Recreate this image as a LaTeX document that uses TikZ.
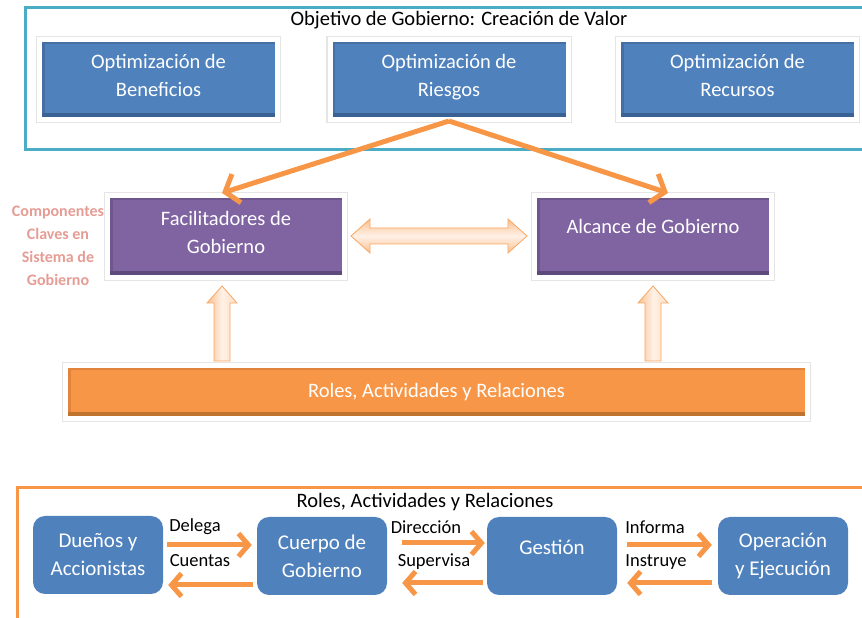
\documentclass[tikz,border=0pt]{standalone}
\usepackage{fontspec}
\setmainfont{Carlito}
\usetikzlibrary{arrows.meta,calc}

\definecolor{ablue}{HTML}{4F81BD}
\definecolor{abluedark}{HTML}{3A6193}
\definecolor{ablueedge}{HTML}{466FA4}
\definecolor{apurple}{HTML}{8064A2}
\definecolor{apurpledark}{HTML}{5E4A7B}
\definecolor{apurpleedge}{HTML}{6F578E}
\definecolor{aorange}{HTML}{F79646}
\definecolor{aorangedark}{HTML}{C0722F}
\definecolor{aorangeedge}{HTML}{E0853B}
\definecolor{ateal}{HTML}{4BACC6}
\definecolor{apeach}{HTML}{FAC090}
\definecolor{apeachlight}{HTML}{FFF1E6}
\definecolor{asalmon}{HTML}{E59C94}

\tikzset{
  bodytext/.style={font=\fontsize{20.5}{28}\selectfont},
  rimbox/.style={rectangle, draw=white, line width=5pt,
    preaction={draw=black!10, line width=7.5pt},
    text=white, bodytext, align=center, inner sep=0pt,
    execute at end node=\strut},
  % bevelled edges: darker band at the bottom, thin shade on the left and top
  bevel/.style 2 args={path picture={
    \fill[#2] (path picture bounding box.south west)
      rectangle ([xshift=5pt]path picture bounding box.north west);
    \fill[#2] ([yshift=-5pt]path picture bounding box.north west)
      rectangle (path picture bounding box.north east);
    \fill[#1] ([yshift=-1pt]path picture bounding box.south west)
      rectangle ([yshift=6pt]path picture bounding box.south east);}},
  bluebox/.style={rimbox, fill=ablue, bevel={abluedark}{ablueedge},
    minimum width=238pt, minimum height=80pt},
  purplebox/.style={rimbox, fill=apurple, bevel={apurpledark}{apurpleedge},
    minimum width=237pt, minimum height=82pt},
  orangebar/.style={rimbox, fill=aorange, bevel={aorangedark}{aorangeedge},
    minimum width=742pt, minimum height=53pt},
  rolebox/.style={rectangle, rounded corners=12pt, fill=ablue, text=white,
    font=\fontsize{21}{28}\selectfont, align=center,
    minimum width=130pt, minimum height=78pt, inner sep=0pt},
  boxtext/.style={text=white, bodytext, inner sep=0pt},
  bigflow/.style={draw=aorange, line width=5pt,
    -{Straight Barb[length=12pt, width=30pt]}},
  flow/.style={draw=aorange, line width=5pt,
    -{Straight Barb[length=10pt, width=23pt]}},
  blockarrow/.style={draw=aorange!85!white, line width=0.8pt, line join=miter,
    left color=apeach, right color=apeachlight!60!apeach, middle color=apeachlight},
  blockarrowh/.style={draw=aorange!85!white, line width=0.8pt, line join=miter,
    top color=apeach, bottom color=apeach, middle color=apeachlight},
  flowlabel/.style={font=\fontsize{18.5}{22}\selectfont, inner sep=0pt},
}

\begin{document}
\begin{tikzpicture}[x=1pt, y=1pt]
\useasboundingbox (0,0) rectangle (862,618);

% ---- goal of governance: value creation ----
\draw[ateal, line width=3pt] (25,468) rectangle (900,610);
\node[bodytext, inner sep=0pt] (goal) at (459,598)
  {Objetivo de Gobierno: Creación de Valor};
\node[bluebox] (ben) at (158.5,538.5) {Optimización de\\Beneficios};
\node[bluebox] (rie) at (449,538.5)   {Optimización de\\Riesgos};
\node[bluebox] (rec) at (737.5,538.5) {Optimización de\\Recursos};

% ---- key components ----
\node[font=\bfseries\fontsize{16}{23}\selectfont, text=asalmon,
      align=center, inner sep=0pt] (comp) at (58,372.5)
  {Componentes\\Claves en\\Sistema de\\Gobierno};

\node[purplebox] (fac) at (226,381.5) {Facilitadores de\\Gobierno};
\node[purplebox] (alc) at (653,381.5) {};
\node[boxtext] (alctext) at (653,392) {Alcance de Gobierno};

\draw[bigflow] ([yshift=1pt]rie.south) -- ($(fac.north)+(-4,0)$);
\draw[bigflow] ([yshift=1pt]rie.south) -- ($(alc.north)+(15,0)$);

% two-way block arrow between the components
\coordinate (dl) at ($(fac.east)+(4,0.5)$);
\coordinate (dr) at ($(alc.west)+(-5,0.5)$);
\draw[blockarrowh] (dl) -- ++(19,17) -- ++(0,-9) -- ($(dr)+(-19,8)$)
  -- ++(0,9) -- (dr) -- ++(-19,-17) -- ++(0,9) -- ($(dl)+(19,-8)$)
  -- ++(0,-9) -- cycle;

% ---- roles bar ----
\node[orangebar] (bar) at (436.5,226) {Roles, Actividades y Relaciones};

% upward block arrows from the bar
\coordinate (ulTip) at ($(fac.south)+(-4,-6)$);
\coordinate (ulBase) at (ulTip |- bar.north);
\coordinate (urTip) at ($(alc.south)+(0,-6)$);
\coordinate (urBase) at (urTip |- bar.north);
\draw[blockarrow] (ulTip) -- ++(15,-17) -- ++(-7,0) -- ($(ulBase)+(8,2)$)
  -- ($(ulBase)+(-8,2)$) -- ($(ulTip)+(-8,-17)$) -- ++(-7,0) -- cycle;
\draw[blockarrow] (urTip) -- ++(15,-17) -- ++(-7,0) -- ($(urBase)+(8,2)$)
  -- ($(urBase)+(-8,2)$) -- ($(urTip)+(-8,-17)$) -- ++(-7,0) -- cycle;

% ---- roles, activities and relations ----
\draw[aorange, line width=3pt] (17,-20) rectangle (900,130);
\node[bodytext, inner sep=0pt] (rolestitle) at (425,116)
  {Roles, Actividades y Relaciones};

\node[rolebox] (due) at (98,63)  {Dueños y\\Accionistas};
\node[rolebox] (cue) at (322,62) {Cuerpo de\\Gobierno};
\node[rolebox] (ges) at (552,62) {};
\node[boxtext, font=\fontsize{21}{28}\selectfont] (gestext) at (552,71) {Gestión};
\node[rolebox] (ope) at (783,62) {Operación\\y Ejecución};

% forward and backward flows
\draw[flow] ($(due.east)+(4,10)$) coordinate (f1) -- ($(f1 -| cue.west)+(-5,0)$);
\draw[flow] ($(cue.west)+(-4,-29)$) coordinate (b1) -- ($(b1 -| due.east)+(5,0)$);
\draw[flow] ($(cue.east)+(15,13)$) coordinate (f2) -- ($(f2 -| ges.west)+(-2,0)$);
\draw[flow] ($(ges.west)+(-4,-27)$) coordinate (b2) -- ($(b2 -| cue.east)+(15,0)$);
\draw[flow] ($(ges.east)+(10,11)$) coordinate (f3) -- ($(f3 -| ope.west)+(-6,0)$);
\draw[flow] ($(ope.west)+(-6,-27)$) coordinate (b3) -- ($(b3 -| ges.east)+(10,0)$);

\node[flowlabel] (delega)    at (195,91) {Delega};
\node[flowlabel] (cuentas)   at (200,57) {Cuentas};
\node[flowlabel] (direccion) at (426,91) {Dirección};
\node[flowlabel] (supervisa) at (434,56) {Supervisa};
\node[flowlabel] (informa)   at (655,91) {Informa};
\node[flowlabel] (instruye)  at (656,56) {Instruye};
\end{tikzpicture}
\end{document}
